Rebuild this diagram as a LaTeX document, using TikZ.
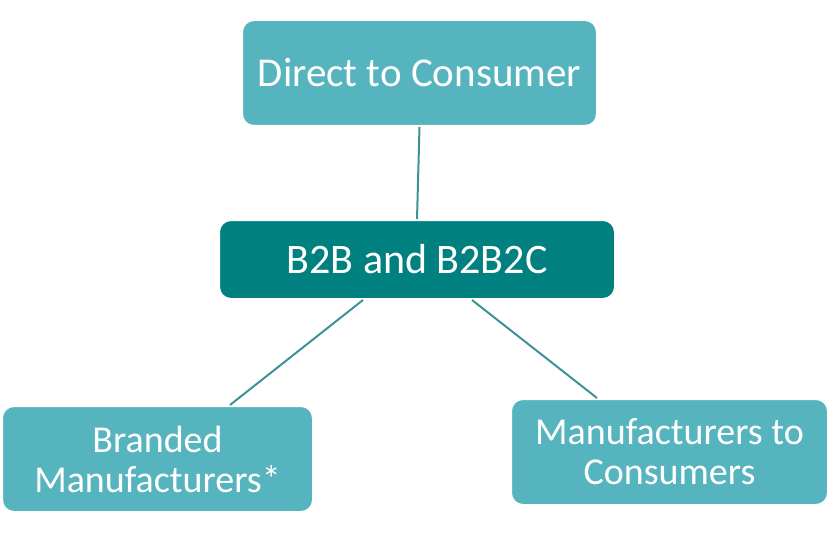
\documentclass[tikz,border=0pt]{standalone}
\usepackage{fontspec}
\setmainfont{Carlito}
\definecolor{light}{HTML}{56B4BE}
\definecolor{dark}{HTML}{00807F}
\definecolor{conn}{HTML}{3F9198}
\begin{document}
\begin{tikzpicture}[x=1pt,y=-1pt,
  box/.style={draw=white,line width=2pt,rounded corners=12pt,text=white,align=center,inner sep=0pt},
  lbox/.style={box,fill=light},
  dbox/.style={box,fill=dark},
  conn/.style={draw=conn,line width=2pt}]
\useasboundingbox[fill=white] (0,0) rectangle (840,540);
\node[lbox,minimum width=355pt,minimum height=106pt,font=\fontsize{41}{48}\selectfont] (dtc) at (419.5,73) {Direct to Consumer};
\node[dbox,minimum width=396pt,minimum height=79pt,font=\fontsize{42}{48}\selectfont] (b2b) at (417,259.5) {B2B and B2B2C};
\node[lbox,minimum width=311pt,minimum height=106pt,font=\fontsize{38}{40}\selectfont] (bm) at (157.5,459) {Branded\\Manufacturers*};
\node[lbox,minimum width=317pt,minimum height=106pt,font=\fontsize{38}{40}\selectfont] (mc) at (669.5,452) {Manufacturers to\\Consumers};
\coordinate (bl) at (363,300);
\coordinate (br) at (472,300);
\coordinate (bmt) at (230,405);
\coordinate (mct) at (597,398);
\draw[conn] (dtc.south) -- (b2b.north);
\draw[conn] (bl) -- (bmt);
\draw[conn] (br) -- (mct);
\end{tikzpicture}
\end{document}
